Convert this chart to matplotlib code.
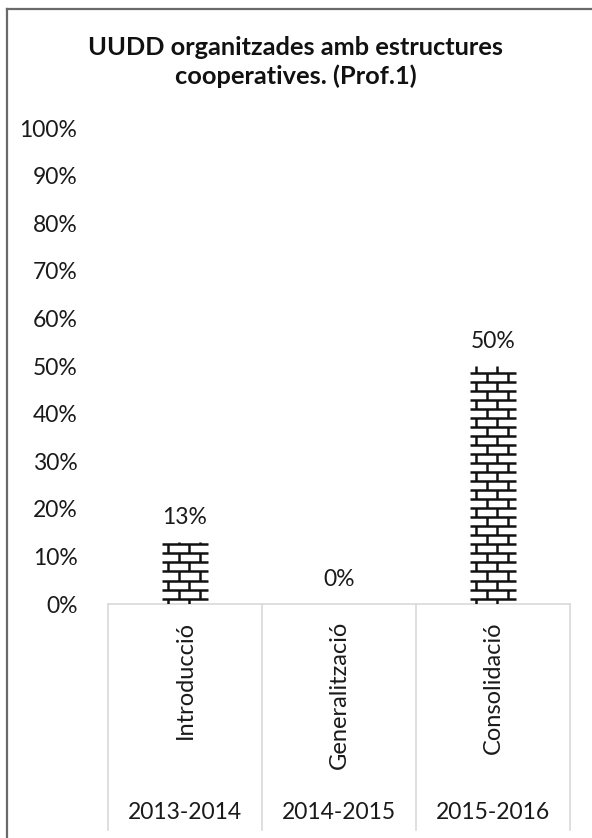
import matplotlib
matplotlib.use("Agg")
import matplotlib.pyplot as plt
from matplotlib.collections import LineCollection
from matplotlib.lines import Line2D
import numpy as np

# data
years = ["2013-2014", "2014-2015", "2015-2016"]
phases = ["Introducció", "Generalització", "Consolidació"]
values = [13, 0, 50]
yticks = [0, 10, 20, 30, 40, 50, 60, 70, 80, 90, 100]
title = "UUDD organitzades amb estructures\ncooperatives. (Prof.1)"

plt.rcParams["font.family"] = ["Lato", "DejaVu Sans"]
fs = 16.5

fig = plt.figure(figsize=(5.92, 8.38), dpi=100)
ax = fig.add_axes([0.1824, 0.2792, 0.7806, 0.568])

x = np.arange(len(values))
bar_w = 0.30
bars = ax.bar(x, values, width=bar_w, color="white", edgecolor="none", zorder=2)

# brick pattern inside each bar, segments cut to the bar outline
row_h = 1.9
brick_w = 0.136
for rect in bars:
    x0, w, h = rect.get_x(), rect.get_width(), rect.get_height()
    if h <= 0:
        continue
    x1 = x0 + w
    segs = []
    ys = np.arange(row_h * 0.6, h, row_h)
    edges = np.concatenate([[0], ys, [h]])
    for y in ys:
        segs.append([(x0, y), (x1, y)])
    for k in range(len(edges) - 1):
        off = 0.3 * brick_w if k % 2 == 0 else 0.8 * brick_w
        for bx in np.arange(x0 + off, x1, brick_w):
            segs.append([(bx, edges[k]), (bx, edges[k + 1])])
    ax.add_collection(LineCollection(segs, colors="#111111", linewidths=1.8,
                                     capstyle="butt", zorder=3))

for xi, v in zip(x, values):
    ax.text(xi, v + 3.0, f"{v}%", ha="center", va="bottom", fontsize=fs, color="#1a1a1a")

ax.set_xlim(-0.5, len(values) - 0.5)
ax.set_ylim(0, 100)
ax.set_yticks(yticks)
ax.set_yticklabels([f"{t}%" for t in yticks], fontsize=fs, color="#1a1a1a")
ax.tick_params(axis="y", length=0, pad=22)
ax.set_xticks([])
for s in ["top", "right", "left"]:
    ax.spines[s].set_visible(False)
ax.spines["bottom"].set_color("#d9d9d9")
ax.spines["bottom"].set_linewidth(1.2)

# two-level category axis
trans = ax.get_xaxis_transform()
for b in np.arange(-0.5, len(values), 1.0):
    ax.add_line(Line2D([b, b], [0, -0.475], transform=trans, color="#d9d9d9",
                       lw=1.2, clip_on=False))
for xi, p, yr in zip(x, phases, years):
    ax.text(xi, -0.036, p, transform=trans, rotation=90, ha="center", va="top",
            fontsize=17, color="#1a1a1a")
    ax.text(xi, -0.439, yr, transform=trans, ha="center", va="center",
            fontsize=fs, color="#1a1a1a")

fig.text(0.5, 0.926, title, ha="center", va="center", fontsize=18.3,
         fontweight="bold", linespacing=1.25, color="#111111")

# outer frame (left and top edges)
fig.add_artist(Line2D([0.0118, 0.0118], [0, 0.989], transform=fig.transFigure,
                      color="#6a6a6a", lw=1.6))
fig.add_artist(Line2D([0.0118, 1], [0.989, 0.989], transform=fig.transFigure,
                      color="#6a6a6a", lw=1.6))

fig.savefig("out.png", dpi=100)
